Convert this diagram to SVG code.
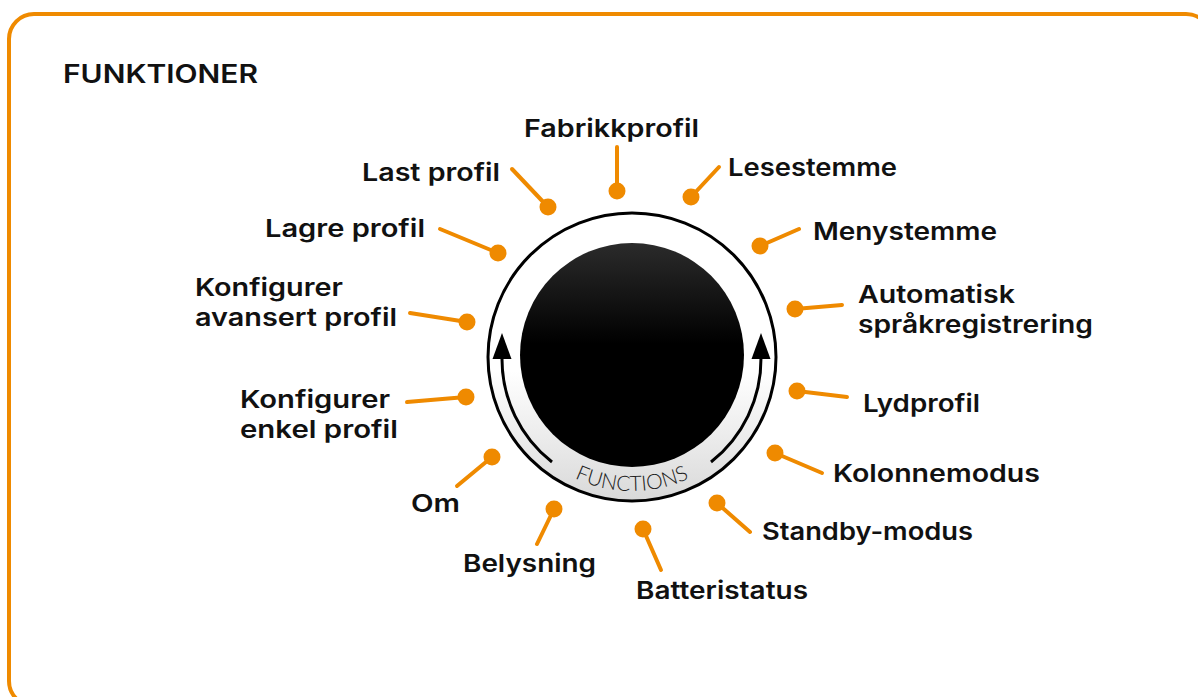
<svg xmlns="http://www.w3.org/2000/svg" width="1198" height="697" viewBox="0 0 1198 697">
<style>
.lbl{font-family:Inter,"Open Sans","DejaVu Sans",sans-serif;font-weight:600;font-size:24.5px;fill:#111;font-variant-ligatures:none}
.ttl{font-family:Inter,"Open Sans","DejaVu Sans",sans-serif;font-weight:600;font-size:25px;fill:#111}
.con line{stroke:#EF8A00;stroke-width:4;stroke-linecap:round}
.con circle{fill:#EF8A00}
.fn{font-family:Lato,"Noto Sans","DejaVu Sans",sans-serif;font-weight:300;font-size:21px;fill:#222}
</style>
<defs>
<linearGradient id="ringG" x1="0" y1="0" x2="0" y2="1">
<stop offset="0" stop-color="#ffffff"/>
<stop offset="0.55" stop-color="#ffffff"/>
<stop offset="1" stop-color="#d9d9d9"/>
</linearGradient>
<linearGradient id="knobG" x1="0" y1="0" x2="0" y2="1">
<stop offset="0" stop-color="#2b2b2b"/>
<stop offset="0.45" stop-color="#000"/>
<stop offset="1" stop-color="#000"/>
</linearGradient>
<path id="fnPath" d="M497,356 A135,135 0 0 0 767,356"/>
</defs>
<rect x="9" y="14" width="1202" height="692" rx="25" fill="#fff" stroke="#EF8A00" stroke-width="4"/>
<text class="ttl" x="63" y="83" textLength="195" lengthAdjust="spacingAndGlyphs">FUNKTIONER</text>

<g id="knob">
<circle cx="632" cy="357" r="144" fill="url(#ringG)" stroke="#000" stroke-width="3"/>
<circle cx="632" cy="355" r="112" fill="url(#knobG)"/>
<path d="M552,462 A131,131 0 0 1 502,358" fill="none" stroke="#000" stroke-width="3"/>
<polygon points="502,333 492.5,359 511.5,359" fill="#000"/>
<path d="M711,462 A131,131 0 0 0 761,358" fill="none" stroke="#000" stroke-width="3"/>
<polygon points="761,333 751.5,359 770.5,359" fill="#000"/>
<text class="fn"><textPath href="#fnPath" startOffset="50%" text-anchor="middle">FUNCTIONS</textPath></text>
</g>

<g id="connectors" class="con">
<line x1="617" y1="147" x2="617" y2="191"/><circle cx="617" cy="191" r="8.5"/>
<line x1="512" y1="169" x2="548" y2="207"/><circle cx="548" cy="207" r="8.5"/>
<line x1="719" y1="167" x2="691" y2="197"/><circle cx="691" cy="197" r="8.5"/>
<line x1="440" y1="229" x2="498" y2="253"/><circle cx="498" cy="253" r="8.5"/>
<line x1="799" y1="229" x2="760" y2="246"/><circle cx="760" cy="246" r="8.5"/>
<line x1="410" y1="313" x2="467" y2="322"/><circle cx="467" cy="322" r="8.5"/>
<line x1="842" y1="305" x2="795" y2="309"/><circle cx="795" cy="309" r="8.5"/>
<line x1="407" y1="402" x2="466" y2="397"/><circle cx="466" cy="397" r="8.5"/>
<line x1="847" y1="397" x2="797" y2="391"/><circle cx="797" cy="391" r="8.5"/>
<line x1="822" y1="473" x2="775" y2="453"/><circle cx="775" cy="453" r="8.5"/>
<line x1="457" y1="486" x2="492" y2="457"/><circle cx="492" cy="457" r="8.5"/>
<line x1="750" y1="532" x2="717" y2="503"/><circle cx="717" cy="503" r="8.5"/>
<line x1="537" y1="544" x2="554" y2="509"/><circle cx="554" cy="509" r="8.5"/>
<line x1="661" y1="570" x2="643" y2="529"/><circle cx="643" cy="529" r="8.5"/>
</g>

<g id="n-fabrikkprofil"><text class="lbl" x="524" y="137" textLength="175" lengthAdjust="spacingAndGlyphs">Fabrikkprofil</text></g>
<g id="n-last-profil"><text class="lbl" x="362" y="181" textLength="138" lengthAdjust="spacingAndGlyphs">Last profil</text></g>
<g id="n-lesestemme"><text class="lbl" x="728" y="176" textLength="169" lengthAdjust="spacingAndGlyphs">Lesestemme</text></g>
<g id="n-lagre-profil"><text class="lbl" x="265" y="237" textLength="160" lengthAdjust="spacingAndGlyphs">Lagre profil</text></g>
<g id="n-menystemme"><text class="lbl" x="813" y="240" textLength="184" lengthAdjust="spacingAndGlyphs">Menystemme</text></g>
<g id="n-konf-avansert"><text class="lbl"><tspan x="195" y="296" textLength="148" lengthAdjust="spacingAndGlyphs">Konfigurer</tspan><tspan x="195" y="326" textLength="202" lengthAdjust="spacingAndGlyphs">avansert profil</tspan></text></g>
<g id="n-automatisk"><text class="lbl"><tspan x="858" y="303" textLength="157" lengthAdjust="spacingAndGlyphs">Automatisk</tspan><tspan x="858" y="333" textLength="235" lengthAdjust="spacingAndGlyphs">språkregistrering</tspan></text></g>
<g id="n-konf-enkel"><text class="lbl"><tspan x="240" y="408" textLength="150" lengthAdjust="spacingAndGlyphs">Konfigurer</tspan><tspan x="240" y="438" textLength="158" lengthAdjust="spacingAndGlyphs">enkel profil</tspan></text></g>
<g id="n-lydprofil"><text class="lbl" x="863" y="412" textLength="117" lengthAdjust="spacingAndGlyphs">Lydprofil</text></g>
<g id="n-kolonnemodus"><text class="lbl" x="833" y="482" textLength="207" lengthAdjust="spacingAndGlyphs">Kolonnemodus</text></g>
<g id="n-om"><text class="lbl" x="411" y="512" textLength="49" lengthAdjust="spacingAndGlyphs">Om</text></g>
<g id="n-standby"><text class="lbl" x="762" y="540" textLength="211" lengthAdjust="spacingAndGlyphs">Standby-modus</text></g>
<g id="n-belysning"><text class="lbl" x="463" y="572" textLength="133" lengthAdjust="spacingAndGlyphs">Belysning</text></g>
<g id="n-batteristatus"><text class="lbl" x="636" y="599" textLength="172" lengthAdjust="spacingAndGlyphs">Batteristatus</text></g>
</svg>
